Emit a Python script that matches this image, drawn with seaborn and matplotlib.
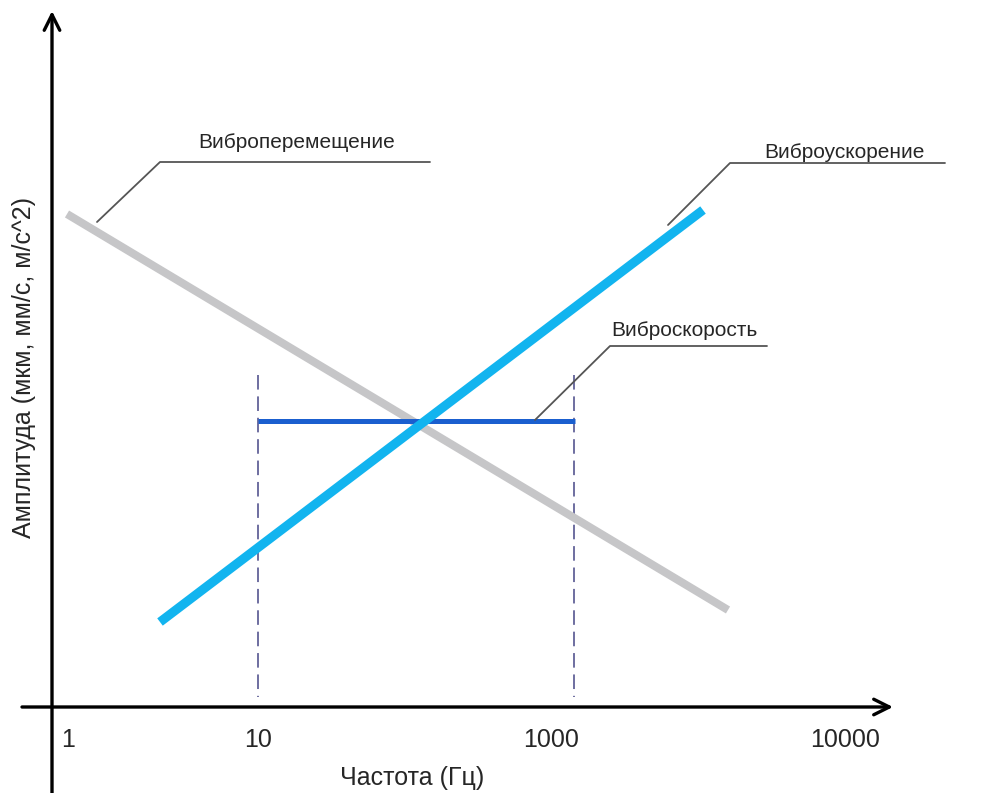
import matplotlib
matplotlib.use("Agg")
import matplotlib.pyplot as plt
import seaborn as sns
import pandas as pd

sns.set_theme(style="white")
plt.rcParams['font.family'] = ['Liberation Sans', 'DejaVu Sans']

# ---- data (schematic units: x = position along the frequency axis, y = amplitude) ----
series = ["Виброперемещение", "Виброускорение", "Виброскорость"]
x_start = [0.15, 1.08, 2.06]
x_end = [6.76, 6.51, 5.23]
y_start = [4.93, 0.85, 2.86]
y_end = [0.97, 4.97, 2.86]
band_edges = [2.06, 5.22]          # dashed band limits (10 Hz ... ~1000 Hz)
band_top = 3.32
tick_labels = ["1", "10", "1000", "10000"]
tick_pos = [0.16, 2.06, 4.99, 7.93]
x_label = "Частота (Гц)"
y_label = "Амплитуда (мкм, мм/с, м/с^2)"

# ---- styles ----
colors = {"Виброперемещение": "#c6c6c8", "Виброускорение": "#12b4ef", "Виброскорость": "#1a5fcf"}
widths = {"Виброперемещение": 5.8, "Виброускорение": 6.6, "Виброскорость": 3.6}
# label placement: (text x, text y, underline x0, underline x1, underline y, leader end x, leader end y)
label_pos = {
    "Виброперемещение": (2.45, 5.64, 1.08, 3.78, 5.45, 0.45, 4.85),
    "Виброускорение": (7.92, 5.55, 6.78, 8.93, 5.44, 6.16, 4.82),
    "Виброскорость": (6.32, 3.77, 5.58, 7.15, 3.61, 4.83, 2.87),
}

df = pd.DataFrame({
    "series": [s for s in series for _ in range(2)],
    "x": [v for pair in zip(x_start, x_end) for v in pair],
    "y": [v for pair in zip(y_start, y_end) for v in pair],
})

fig = plt.figure(figsize=(9.98, 7.93), dpi=100)
ax = fig.add_axes([0, 0, 1, 1])
ax.set_xlim(-0.52, 9.46)
ax.set_ylim(-0.86, 7.07)
ax.axis("off")

# dashed band limits (drawn top-down so the pattern starts with a dash)
for xe in band_edges:
    ax.plot([xe, xe], [band_top, 0.1], color="#6e6ea0", lw=1.4,
            dashes=(7.5, 3.5), zorder=1)

order = ["Виброперемещение", "Виброскорость", "Виброускорение"]
for s in order:
    sub = df[df.series == s]
    sns.lineplot(data=sub, x="x", y="y", ax=ax, color=colors[s],
                 linewidth=widths[s], legend=False, sort=False,
                 solid_capstyle="butt", zorder=3)

# axes with arrows
ax.annotate("", xy=(0, 6.96), xytext=(0, -0.86),
            arrowprops=dict(arrowstyle="->", lw=2.4, color="black",
                            mutation_scale=28, shrinkA=0, shrinkB=0), zorder=5)
ax.annotate("", xy=(8.41, 0), xytext=(-0.30, 0),
            arrowprops=dict(arrowstyle="->", lw=2.4, color="black",
                            mutation_scale=28, shrinkA=0, shrinkB=0), zorder=5)

# callout labels
for s in series:
    tx, ty, u0, u1, uy, lx, ly = label_pos[s]
    ax.plot([lx, u0, u1], [ly, uy, uy], color="#555555", lw=1.3, zorder=4)
    ax.text(tx, ty, s, ha="center", va="center", fontsize=15, color="#262626")

# tick labels
for lab, p in zip(tick_labels, tick_pos):
    ax.text(p, -0.33, lab, ha="center", va="center", fontsize=18, color="#262626")

ax.text(3.60, -0.71, x_label, ha="center", va="center", fontsize=18, color="#262626")
ax.text(-0.28, 3.40, y_label, ha="center", va="center", rotation=90,
        fontsize=18, color="#262626")

fig.savefig("out.png", dpi=100)
